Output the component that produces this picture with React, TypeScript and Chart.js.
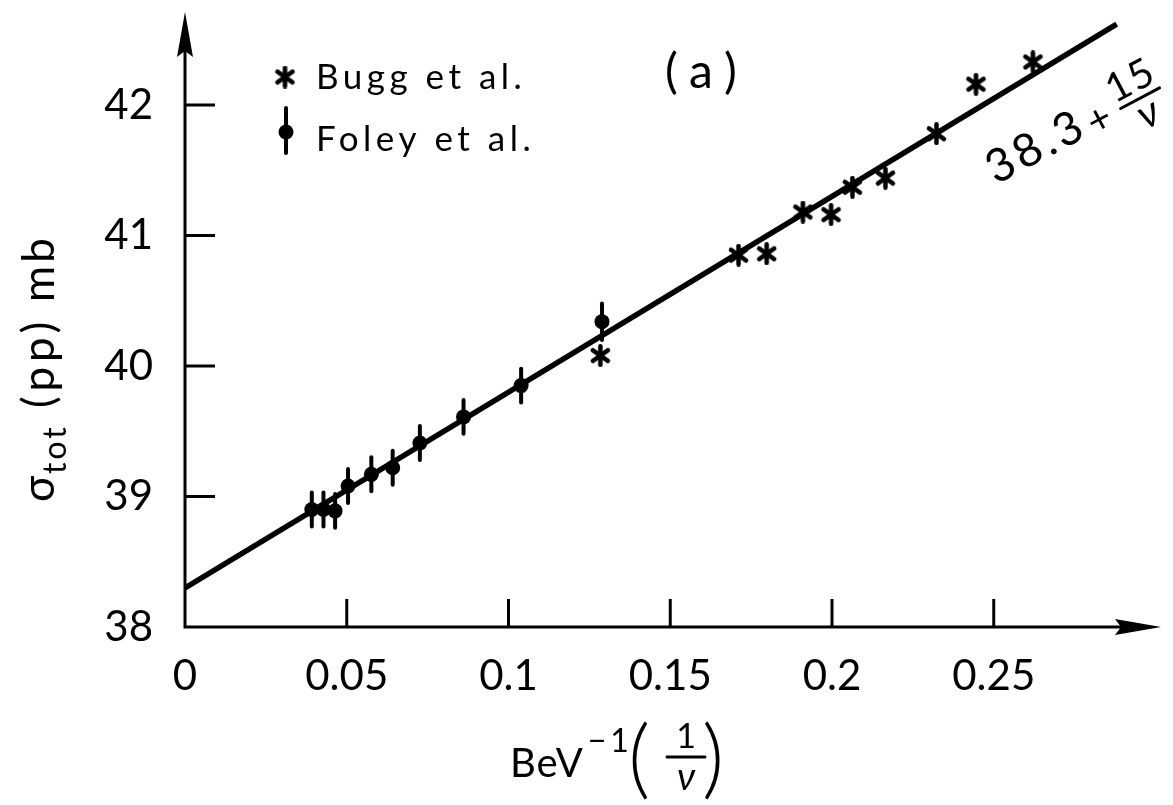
import React, { useEffect, useRef } from "react";
import { Chart, registerables } from "chart.js";
Chart.register(...registerables);

const FONT = "Lato, 'DejaVu Sans', sans-serif";

// Foley et al. (dots with error bars)
const foleyX = [0.0392, 0.0428, 0.0464, 0.0504, 0.0576, 0.0642, 0.0726, 0.0861, 0.1039, 0.1289];
const foleyY = [38.9, 38.9, 38.89, 39.08, 39.17, 39.22, 39.41, 39.61, 39.85, 40.34];
const foleyErr = [0.13, 0.13, 0.13, 0.13, 0.13, 0.13, 0.13, 0.13, 0.13, 0.14];
// Bugg et al. (asterisks)
const buggX = [0.1284, 0.1711, 0.1798, 0.191, 0.1997, 0.2063, 0.2165, 0.2323, 0.2445, 0.2621];
const buggY = [40.08, 40.85, 40.86, 41.18, 41.16, 41.37, 41.44, 41.78, 42.16, 42.33];
// fitted line 38.3 + 15/nu
const fitX = [0, 0.288];
const fitY = [38.3, 42.62];
// axes
const xTicks = [0, 0.05, 0.1, 0.15, 0.2, 0.25];
const xTickLabels = ["0", "0.05", "0.1", "0.15", "0.2", "0.25"];
const yTicks = [38, 39, 40, 41, 42];
const yTickLabels = ["38", "39", "40", "41", "42"];
const xMin = 0, xMax = 0.3017, yMin = 38, yMax = 42.69;

function makeAsterisk(size: number, lw: number) {
  const c = document.createElement("canvas");
  c.width = size;
  c.height = size;
  const g = c.getContext("2d")!;
  g.strokeStyle = "#000";
  g.lineWidth = lw;
  g.lineCap = "round";
  const r = size / 2 - lw / 2;
  const cx = size / 2, cy = size / 2;
  for (const a of [90, 35, 145]) {
    const rad = (a * Math.PI) / 180;
    g.beginPath();
    g.moveTo(cx - r * Math.cos(rad), cy + r * Math.sin(rad));
    g.lineTo(cx + r * Math.cos(rad), cy - r * Math.sin(rad));
    g.stroke();
  }
  return c;
}

export default function App() {
  const ref = useRef<HTMLCanvasElement | null>(null);
  useEffect(() => {
    if (!ref.current) return;
    const star = makeAsterisk(23, 4.5);

    const deco = {
      id: "deco",
      afterDatasetsDraw(chart: any) {
        const ctx = chart.ctx;
        const xs = chart.scales.x, ys = chart.scales.y;
        ctx.save();
        ctx.strokeStyle = "#000";
        ctx.lineWidth = 4;
        ctx.lineCap = "round";
        foleyX.forEach((x, i) => {
          const px = xs.getPixelForValue(x);
          ctx.beginPath();
          ctx.moveTo(px, ys.getPixelForValue(foleyY[i] + foleyErr[i]));
          ctx.lineTo(px, ys.getPixelForValue(foleyY[i] - foleyErr[i]));
          ctx.stroke();
        });
        ctx.restore();
      },
      afterDraw(chart: any) {
        const ctx = chart.ctx;
        const xs = chart.scales.x, ys = chart.scales.y;
        const { top, right } = chart.chartArea;
        const x0 = xs.getPixelForValue(xMin);
        const y0 = ys.getPixelForValue(yMin);
        ctx.save();
        ctx.strokeStyle = "#000";
        ctx.fillStyle = "#000";
        ctx.lineWidth = 3;
        ctx.lineCap = "butt";
        // axes
        ctx.beginPath();
        ctx.moveTo(x0, y0 + 1.5);
        ctx.lineTo(x0, top + 30);
        ctx.moveTo(x0 - 1.5, y0);
        ctx.lineTo(right - 30, y0);
        ctx.stroke();
        // arrowheads
        ctx.beginPath();
        ctx.moveTo(x0, top - 3);
        ctx.lineTo(x0 - 8, top + 42);
        ctx.lineTo(x0, top + 36);
        ctx.lineTo(x0 + 8, top + 42);
        ctx.closePath();
        ctx.fill();
        ctx.beginPath();
        ctx.moveTo(right, y0);
        ctx.lineTo(right - 46, y0 - 8);
        ctx.lineTo(right - 40, y0);
        ctx.lineTo(right - 46, y0 + 8);
        ctx.closePath();
        ctx.fill();
        // tick marks (inward)
        ctx.beginPath();
        xTicks.forEach((v) => {
          if (v === xMin) return;
          const px = xs.getPixelForValue(v);
          ctx.moveTo(px, y0);
          ctx.lineTo(px, y0 - 28);
        });
        yTicks.forEach((v) => {
          if (v === yMin) return;
          const py = ys.getPixelForValue(v);
          ctx.moveTo(x0, py);
          ctx.lineTo(x0 + 30, py);
        });
        ctx.stroke();

        // legend
        ctx.drawImage(star, 285 - 11.5, 77 - 11.5);
        ctx.lineWidth = 4;
        ctx.lineCap = "round";
        ctx.beginPath();
        ctx.moveTo(286, 108);
        ctx.lineTo(286, 153);
        ctx.stroke();
        ctx.beginPath();
        ctx.arc(286, 132, 7.5, 0, Math.PI * 2);
        ctx.fill();
        ctx.font = `35px ${FONT}`;
        (ctx as any).letterSpacing = "4.5px";
        ctx.textAlign = "left";
        ctx.textBaseline = "alphabetic";
        ctx.fillText("Bugg et al.", 316, 89);
        ctx.fillText("Foley et al.", 316, 151);

        // panel label
        ctx.font = `48px ${FONT}`;
        (ctx as any).letterSpacing = "12px";
        ctx.textAlign = "left";
        ctx.textBaseline = "middle";
        ctx.fillText("(a)", 665, 73);

        // equation along the line
        ctx.save();
        ctx.translate(996, 185);
        ctx.rotate((-28 * Math.PI) / 180);
        ctx.font = `46px ${FONT}`;
        (ctx as any).letterSpacing = "4px";
        ctx.textAlign = "left";
        ctx.textBaseline = "alphabetic";
        ctx.fillText("38.3", 0, 0);
        (ctx as any).letterSpacing = "0px";
        ctx.textAlign = "center";
        ctx.font = `40px ${FONT}`;
        ctx.fillText("+", 122, 4);
        (ctx as any).letterSpacing = "2px";
        ctx.fillText("15", 168, -16);
        ctx.lineWidth = 3;
        ctx.beginPath();
        ctx.moveTo(146, -9);
        ctx.lineTo(190, -9);
        ctx.stroke();
        (ctx as any).letterSpacing = "0px";
        ctx.font = `italic 42px ${FONT}`;
        ctx.fillText("ν", 168, 22);
        ctx.restore();

        // y title
        ctx.save();
        ctx.translate(54, 502);
        ctx.rotate(-Math.PI / 2);
        ctx.textAlign = "left";
        ctx.textBaseline = "alphabetic";
        ctx.font = `44px ${FONT}`;
        (ctx as any).letterSpacing = "0px";
        ctx.fillText("σ", 0, 0);
        ctx.font = `32px ${FONT}`;
        (ctx as any).letterSpacing = "3px";
        ctx.fillText("tot", 28, 12);
        ctx.font = `44px ${FONT}`;
        (ctx as any).letterSpacing = "5px";
        ctx.fillText("(pp)", 94, 0);
        (ctx as any).letterSpacing = "3px";
        ctx.fillText("mb", 200, 0);
        ctx.restore();

        // x title
        (ctx as any).letterSpacing = "1px";
        ctx.textAlign = "left";
        ctx.textBaseline = "alphabetic";
        ctx.font = `40px ${FONT}`;
        ctx.fillText("BeV", 510, 777);
        const wb = ctx.measureText("BeV").width;
        (ctx as any).letterSpacing = "4px";
        ctx.font = `32px ${FONT}`;
        ctx.fillText("−1", 510 + wb + 4, 752);
        (ctx as any).letterSpacing = "0px";
        ctx.font = `300 86px ${FONT}`;
        ctx.fillText("(", 628, 788);
        ctx.fillText(")", 702, 788);
        ctx.textAlign = "center";
        ctx.font = `34px ${FONT}`;
        ctx.fillText("1", 686, 748);
        ctx.lineWidth = 3;
        ctx.beginPath();
        ctx.moveTo(667, 757);
        ctx.lineTo(705, 757);
        ctx.stroke();
        ctx.font = `italic 38px ${FONT}`;
        ctx.fillText("ν", 686, 790);
        ctx.restore();
      },
    };

    const chart = new Chart(ref.current, {
      type: "scatter",
      data: {
        datasets: [
          {
            label: "38.3 + 15/ν",
            data: fitX.map((x, i) => ({ x, y: fitY[i] })),
            showLine: true,
            borderColor: "#000",
            borderWidth: 5.5,
            pointRadius: 0,
          },
          {
            label: "Foley et al.",
            data: foleyX.map((x, i) => ({ x, y: foleyY[i] })),
            pointStyle: "circle",
            pointRadius: 7.5,
            backgroundColor: "#000",
            borderColor: "#000",
            borderWidth: 0,
          },
          {
            label: "Bugg et al.",
            data: buggX.map((x, i) => ({ x, y: buggY[i] })),
            pointStyle: star as any,
            pointRadius: 11,
          },
        ],
      },
      options: {
        animation: false,
        responsive: false,
        layout: { padding: { left: 0, right: 1, top: 15, bottom: 0 } },
        plugins: { legend: { display: false }, tooltip: { enabled: false } },
        scales: {
          x: {
            type: "linear",
            min: xMin,
            max: xMax,
            grid: { display: false, drawTicks: false },
            border: { display: false },
            afterBuildTicks: (s: any) => {
              s.ticks = xTicks.map((v) => ({ value: v }));
            },
            afterFit: (s: any) => {
              s.height = 178;
              s.paddingLeft = 0;
              s.paddingRight = 0;
            },
            ticks: {
              callback: (v: any) => xTickLabels[xTicks.indexOf(v)],
              font: { family: FONT, size: 42 },
              color: "#000",
              padding: 24,
              maxRotation: 0,
              autoSkip: false,
            },
          },
          y: {
            type: "linear",
            min: yMin,
            max: yMax,
            grid: { display: false, drawTicks: false },
            border: { display: false },
            afterBuildTicks: (s: any) => {
              s.ticks = yTicks.map((v) => ({ value: v }));
            },
            afterFit: (s: any) => {
              s.width = 185;
              s.paddingTop = 0;
              s.paddingBottom = 0;
            },
            ticks: {
              callback: (v: any) => yTickLabels[yTicks.indexOf(v)],
              font: { family: FONT, size: 42 },
              color: "#000",
              padding: 32,
              autoSkip: false,
            },
          },
        },
      },
      plugins: [deco],
    });
    return () => chart.destroy();
  }, []);

  return (
    <div style={{ position: "fixed", left: 0, top: 0, width: 1173, height: 805, background: "#fff" }}>
      <canvas ref={ref} width={1173} height={805} />
    </div>
  );
}
